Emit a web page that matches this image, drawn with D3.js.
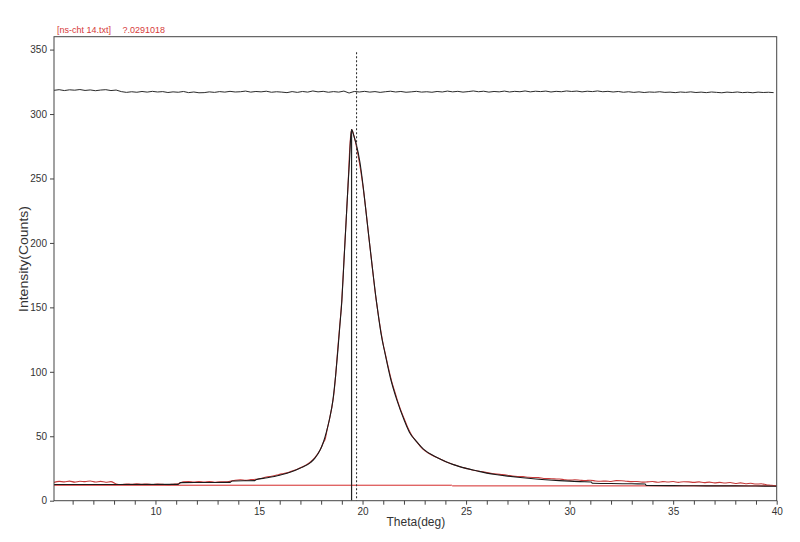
<!DOCTYPE html>
<html>
<head>
<meta charset="utf-8">
<script src="https://cdn.jsdelivr.net/npm/d3@7"></script>
<style>
  html, body { margin: 0; padding: 0; background: #fff; }
  svg { display: block; font-family: "Liberation Sans", Arial, sans-serif; }
</style>
</head>
<body>
<svg id="chart" width="800" height="542"></svg>
<script>
// ---------- DATA ----------
const titleFile = "[ns-cht 14.txt]";
const titleValue = "?.0291018";
const xLabel = "Theta(deg)";
const yLabel = "Intensity(Counts)";

const xMajorTicks = [10, 15, 20, 25, 30, 35, 40];
const xMinorTicks = d3.range(6, 41, 1);
const yTicks = [0, 50, 100, 150, 200, 250, 300, 350];

// observed intensity (red)
const obsTheta = [5.1,5.35,5.6,5.85,6.1,6.35,6.6,6.85,7.1,7.35,7.6,7.85,8.1,
  8.35,8.6,8.85,9.1,9.35,9.6,9.85,10.1,10.35,10.6,10.85,11.1,11.35,11.6,11.85,12.1,12.35,12.6,12.85,13.1,13.35,13.6,13.85,
  14.1,14.35,14.6,14.85,15.1,15.35,15.6,15.85,16.1,16.35,16.6,16.85,17.1,17.3,17.5,17.7,17.9,18.0,18.1,18.2,18.3,18.4,18.5,
  18.6,18.7,18.8,18.9,19.0,19.1,19.2,19.3,19.4,19.47,19.55,19.65,19.75,19.85,19.95,20.1,20.2,20.3,20.4,20.5,20.6,20.7,20.8,
  20.9,21.0,21.1,21.25,21.4,21.55,21.7,21.85,22.0,22.15,22.3,22.45,22.6,22.8,23.0,23.25,23.5,23.75,24.0,24.25,24.5,24.75,
  25.0,25.25,25.5,25.75,26.0,26.25,26.5,26.75,27.0,27.25,27.5,27.75,28.0,28.25,28.5,28.75,29.0,29.25,29.5,29.75,30.0,30.25,
  30.5,30.75,31.0,31.25,31.5,31.75,32.0,32.25,32.5,32.75,33.0,33.25,33.5,33.75,34.0,34.25,34.5,34.75,35.0,35.25,35.5,35.75,
  36.0,36.25,36.5,36.75,37.0,37.25,37.5,37.75,38.0,38.25,38.5,38.75,39.0,39.25,39.5,39.75,40.0];
const obsCounts = [14.2,15.0,14.6,15.2,14.4,15.1,14.8,15.3,14.5,15.0,14.3,14.8,13.0,
  12.6,13.0,12.7,13.1,12.8,13.0,12.6,12.9,12.7,12.5,12.8,13.2,14.6,14.9,14.4,14.8,14.5,14.9,14.3,14.7,14.6,15.0,15.9,
  16.2,15.8,16.4,16.6,17.2,18.4,19.0,19.9,20.8,21.6,23.1,24.4,26.3,28.0,30.2,33.5,38.0,41,45,48,56,63,71,
  81,97,117,136,156,186,215,245,278,288,285,279,271,262,252,234,220,205,191,177,163,151,140,
  130,121,114,103,93,85,77,70,64,58,53,49,46,42,38.8,36.2,34.1,32.3,30.4,28.9,27.5,26.2,
  25.1,24.0,23.2,22.6,21.8,21.1,20.6,20.2,19.7,19.1,18.8,18.7,18.2,18.0,17.9,17.2,17.1,16.9,16.8,16.3,16.0,16.2,
  15.9,15.6,15.9,15.3,15.1,15.2,14.9,15.6,15.5,15.1,14.8,14.9,14.4,14.6,14.9,14.3,14.8,14.5,14.9,14.2,14.7,14.6,
  14.2,14.6,14.0,14.4,13.8,14.2,13.7,14.1,13.4,13.8,13.2,13.5,12.9,13.1,12.4,12.0,11.4];

// fitted profile (black)
const fitTheta = [5.1,8,11.1,11.2,13.6,13.7,14.8,14.85,15.4,16,16.5,17,17.5,17.7,17.95,18.1,18.24,18.4,18.57,
  18.7,18.81,18.9,19.0,19.1,19.21,19.3,19.37,19.42,19.47,19.53,19.6,19.69,19.88,20.05,20.21,20.43,20.66,20.77,20.9,21.09,21.35,
  21.66,22.0,22.27,22.6,22.94,23.5,24,24.39,25,25.5,26,26.5,27,27.5,28,28.5,29,29.5,30,30.5,31.05,31.1,32,33,33.65,33.7,
  35,36,37,38,39,40];
const fitCounts = [12.6,12.6,12.7,14.0,14.2,15.3,15.6,16.3,17.8,19.8,22,25.3,29.8,33,39.3,45,52.5,63,78,
  97,117,135,155,185,218,245,264,280,288,286,282,277,262,241,218,187,156,143,129,114,95,
  78,63,53,46,40,34.3,30.5,28,25.1,23.2,21.4,20.1,19.1,18.2,17.4,16.7,16.1,15.6,15.2,14.8,14.5,13.5,13.3,13.1,13.0,11.8,
  11.7,11.6,11.5,11.5,11.4,11.2];

// background (red horizontal)
const bgTheta = [5.1, 24.3, 24.35, 40];
const bgCounts = [12.0, 12.0, 11.5, 11.5];

// difference curve (offset, top)
const residStart = 5.1, residStep = 0.25;
const residCounts = [
  318.4,318.9,318.2,318.8,318.5,319.0,318.3,318.7,318.1,318.6,
  318.9,318.2,318.6,317.4,316.8,317.3,316.9,317.5,317.0,317.6,
  317.1,317.4,316.7,317.2,316.9,317.5,316.6,317.1,316.5,316.6,
  317.2,316.8,317.4,317.0,317.6,317.1,317.3,317.8,317.0,317.5,
  317.2,317.7,316.9,317.3,317.0,316.6,317.4,316.8,317.5,317.0,
  317.9,317.2,317.6,316.9,317.4,317.0,317.8,316.3,317.5,317.1,
  317.6,317.0,317.4,316.8,317.3,317.7,317.1,317.5,316.9,317.2,
  317.6,317.0,317.3,316.9,317.5,317.1,317.8,317.2,317.6,317.0,
  317.4,317.9,317.3,317.7,317.0,317.5,317.2,317.8,317.1,317.6,
  317.3,317.9,317.2,317.7,317.4,317.8,317.1,317.6,317.3,317.9,
  317.5,317.8,317.2,317.7,317.4,317.9,317.3,317.6,317.1,317.5,
  316.9,317.3,316.8,317.2,316.7,317.1,316.9,317.3,316.8,317.0,
  316.6,317.1,316.8,317.2,316.7,317.0,316.6,317.1,316.8,316.5,
  317.0,316.7,317.1,316.6,316.9,316.5,317.0,316.7,316.9,316.6];

// peak position marker (solid) and reference line (dotted)
const peakTheta = 19.47, peakCounts = 288;
const refTheta = 19.71, refTop = 348;

// ---------- CHART ----------
const svg = d3.select("#chart");
const L = 54, R = 776.7, T = 36.7, B = 500.7;

const x = d3.scaleLinear().domain([5.1, 40]).range([L, R]);
const y = d3.scaleLinear().domain([0, 360]).range([B, T]);

svg.append("defs").append("clipPath").attr("id", "clip")
  .append("rect").attr("x", L).attr("y", T).attr("width", R - L).attr("height", B - T);

const plot = svg.append("g").attr("clip-path", "url(#clip)");
const line = d3.line().x(d => x(d[0])).y(d => y(d[1]));
const smooth = d3.line().x(d => x(d[0])).y(d => y(d[1])).curve(d3.curveMonotoneX);

// background
plot.append("path").datum(bgTheta.map((t, i) => [t, bgCounts[i]]))
  .attr("d", line).attr("fill", "none").attr("stroke", "#d42a2a").attr("stroke-width", 1);

// observed
plot.append("path").datum(obsTheta.map((t, i) => [t, obsCounts[i]]))
  .attr("d", smooth).attr("fill", "none").attr("stroke", "#c83a3a").attr("stroke-width", 1.1);

// fit
plot.append("path").datum(fitTheta.map((t, i) => [t, fitCounts[i]]))
  .attr("d", smooth).attr("fill", "none").attr("stroke", "#1a1a1a").attr("stroke-width", 1.1);

// difference
plot.append("path").datum(residCounts.map((v, i) => [residStart + i * residStep, v]))
  .attr("d", line).attr("fill", "none").attr("stroke", "#2a2a2a").attr("stroke-width", 1);

// vertical lines
plot.append("line").attr("x1", x(peakTheta)).attr("x2", x(peakTheta))
  .attr("y1", y(peakCounts)).attr("y2", y(0))
  .attr("stroke", "#222").attr("stroke-width", 1.2);
plot.append("line").attr("x1", x(refTheta)).attr("x2", x(refTheta))
  .attr("y1", y(refTop)).attr("y2", y(0))
  .attr("stroke", "#333").attr("stroke-width", 1.1).attr("stroke-dasharray", "2,2");

// axes
const xAxis = d3.axisBottom(x).tickValues(xMinorTicks).tickSize(4).tickPadding(3)
  .tickFormat(d => xMajorTicks.includes(d) ? String(d) : "");
const gx = svg.append("g").attr("transform", `translate(0,${B})`).call(xAxis);
gx.select(".domain").remove();
gx.selectAll("line").attr("stroke", "#444");
gx.selectAll("text").attr("font-size", 10).attr("fill", "#333").attr("font-family", "Liberation Sans, Arial, sans-serif");

const yAxis = d3.axisLeft(y).tickValues(yTicks).tickSize(4).tickPadding(3);
const gy = svg.append("g").attr("transform", `translate(${L},0)`).call(yAxis);
gy.select(".domain").remove();
gy.selectAll("line").attr("stroke", "#444");
gy.selectAll("text").attr("font-size", 10).attr("fill", "#333").attr("font-family", "Liberation Sans, Arial, sans-serif");

// frame
svg.append("rect").attr("x", L).attr("y", T).attr("width", R - L).attr("height", B - T)
  .attr("fill", "none").attr("stroke", "#444").attr("stroke-width", 1);

// labels
svg.append("text").attr("x", (L + R) / 2 + 0.5).attr("y", 526)
  .attr("text-anchor", "middle").attr("font-size", 12).attr("fill", "#333").text(xLabel);
svg.append("text").attr("transform", "translate(28,259) rotate(-90)")
  .attr("text-anchor", "middle").attr("font-size", 12).attr("fill", "#333")
  .attr("textLength", 106).attr("lengthAdjust", "spacingAndGlyphs").text(yLabel);

svg.append("text").attr("x", 57).attr("y", 33).attr("font-size", 9).attr("fill", "#d63a3a").text(titleFile);
svg.append("text").attr("x", 122.5).attr("y", 33).attr("font-size", 9).attr("fill", "#d63a3a").text(titleValue);
</script>
</body>
</html>
